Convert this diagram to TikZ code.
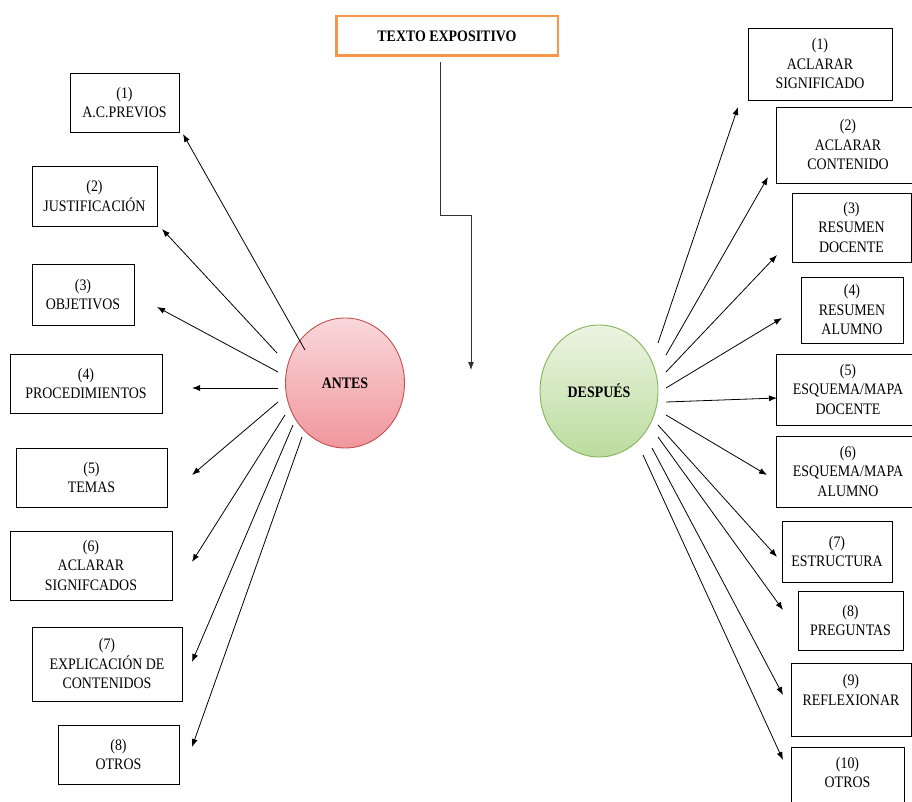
\documentclass[tikz,border=0pt]{standalone}
\usepackage{fontspec}
\setmainfont{Liberation Serif}[FakeStretch=0.87]
\usetikzlibrary{arrows.meta,shapes.geometric}

\definecolor{naranja}{RGB}{247,150,70}
\definecolor{rojoborde}{RGB}{192,80,77}
\definecolor{rojoclaro}{RGB}{250,216,219}
\definecolor{rojomedio}{RGB}{240,150,156}
\definecolor{verdeborde}{RGB}{130,180,90}
\definecolor{verdeclaro}{RGB}{235,244,226}
\definecolor{verdemedio}{RGB}{188,220,158}
\definecolor{gristrazo}{RGB}{50,50,50}

\tikzset{
  caja/.style={draw, line width=0.9pt, rectangle, align=center, inner sep=0pt,
    font=\fontsize{16}{19.5}\selectfont},
  bola/.style={ellipse, line width=0.9pt, inner sep=0pt,
    font=\bfseries\fontsize{16}{19}\selectfont},
  flecha/.style={line width=0.8pt, -{Latex[length=8pt,width=6pt]}},
}

\begin{document}
\begin{tikzpicture}[x=1pt,y=-1pt]
    \useasboundingbox (0,0) rectangle (912,802);
    \clip (0,0) rectangle (912,802);

    % Titulo
    \node[draw=naranja, line width=2.5pt, minimum width=221.5pt, minimum height=39.5pt,
      font=\bfseries\fontsize{16}{19}\selectfont] (titulo) at (447,36) {TEXTO EXPOSITIVO};

    % Circulos
    \node[bola, draw=rojoborde, top color=rojoclaro, bottom color=rojomedio,
      minimum width=119pt, minimum height=130pt] (antes) at (345,383) {ANTES};
    \node[bola, draw=verdeborde, top color=verdeclaro, bottom color=verdemedio,
      minimum width=118pt, minimum height=132pt] (despues) at (599,391) {DESPUÉS};

    % Cajas de la izquierda (antes)
    \node[caja, minimum width=109pt, minimum height=59pt] (a1) at (124.5,102.5) {(1)\\A.C.PREVIOS};
    \node[caja, minimum width=125pt, minimum height=60pt] (a2) at (94.5,196) {(2)\\JUSTIFICACIÓN};
    \node[caja, minimum width=102pt, minimum height=61pt] (a3) at (83,294.5) {(3)\\OBJETIVOS};
    \node[caja, minimum width=152pt, minimum height=59pt] (a4) at (86,383.5) {(4)\\PROCEDIMIENTOS};
    \node[caja, minimum width=151pt, minimum height=59pt] (a5) at (91.5,477.5) {(5)\\TEMAS};
    \node[caja, minimum width=162pt, minimum height=69pt] (a6) at (91,565.5) {(6)\\ACLARAR\\SIGNIFCADOS};
    \node[caja, minimum width=150pt, minimum height=74pt] (a7) at (107,664) {(7)\\EXPLICACIÓN DE\\CONTENIDOS};
    \node[caja, minimum width=121pt, minimum height=59pt] (a8) at (118.5,754.5) {(8)\\OTROS};

    % Cajas de la derecha (despues)
    \node[caja, minimum width=144pt, minimum height=72pt] (d1) at (820,64) {(1)\\ACLARAR\\SIGNIFICADO};
    \node[caja, minimum width=144pt, minimum height=76pt] (d2) at (848,145) {(2)\\ACLARAR\\CONTENIDO};
    \node[caja, minimum width=119pt, minimum height=69pt] (d3) at (851.5,227.5) {(3)\\RESUMEN\\DOCENTE};
    \node[caja, minimum width=102pt, minimum height=66pt] (d4) at (852,310) {(4)\\RESUMEN\\ALUMNO};
    \node[caja, minimum width=144pt, minimum height=71pt] (d5) at (848,389.5) {(5)\\ESQUEMA/MAPA\\DOCENTE};
    \node[caja, minimum width=144pt, minimum height=71pt] (d6) at (848,471.5) {(6)\\ESQUEMA/MAPA\\ALUMNO};
    \node[caja, minimum width=110pt, minimum height=61pt] (d7) at (837,551.5) {(7)\\ESTRUCTURA};
    \node[caja, minimum width=105pt, minimum height=59pt] (d8) at (850.5,620.5) {(8)\\PREGUNTAS};
    \node[caja, minimum width=120pt, minimum height=73pt] (d9) at (851,699.5) {(9)\\REFLEXIONAR\\\mbox{}};
    \node[caja, minimum width=113pt, minimum height=70pt] (d10) at (847.5,782) {(10)\\OTROS\\\mbox{}};

    % Puntas de las flechas
    \coordinate (fa1) at (183,134);
    \coordinate (fa2) at (162,229);
    \coordinate (fa3) at (157,307);
    \coordinate (fa4) at (192,388);
    \coordinate (fa5) at (192,475);
    \coordinate (fa6) at (192,562);
    \coordinate (fa7) at (192,662);
    \coordinate (fa8) at (192,747);
    \coordinate (fd1) at (738,107);
    \coordinate (fd2) at (768,177);
    \coordinate (fd3) at (777,255);
    \coordinate (fd4) at (782,318);
    \coordinate (fd5) at (777,398);
    \coordinate (fd6) at (767,475);
    \coordinate (fd7) at (777,557);
    \coordinate (fd8) at (783,610);
    \coordinate (fd9) at (783,695);
    \coordinate (fd10) at (783,760);
    \coordinate (codo) at (471,215);
    \coordinate (medio) at (471,370);

    % Del titulo hacia el centro
    \draw[flecha, gristrazo] ([xshift=-7pt,yshift=-5pt]titulo.south) |- (codo) -- (medio);

    % Flechas de antes
    \draw[flecha] ([shift={(-40,-33)}]antes.center) -- (fa1);
    \draw[flecha] ([shift={(-68,-30)}]antes.center) -- (fa2);
    \draw[flecha] ([shift={(-67,-11)}]antes.center) -- (fa3);
    \draw[flecha] ([shift={(-67,5)}]antes.center) -- (fa4);
    \draw[flecha] ([shift={(-67,19)}]antes.center) -- (fa5);
    \draw[flecha] ([shift={(-60,32)}]antes.center) -- (fa6);
    \draw[flecha] ([shift={(-52,42)}]antes.center) -- (fa7);
    \draw[flecha] ([shift={(-43,54)}]antes.center) -- (fa8);

    % Flechas de despues
    \draw[flecha] ([shift={(59,-48)}]despues.center) -- (fd1);
    \draw[flecha] ([shift={(67,-36)}]despues.center) -- (fd2);
    \draw[flecha] ([shift={(67,-19)}]despues.center) -- (fd3);
    \draw[flecha] ([shift={(67,-3)}]despues.center) -- (fd4);
    \draw[flecha] ([shift={(67,11)}]despues.center) -- (fd5);
    \draw[flecha] ([shift={(67,24)}]despues.center) -- (fd6);
    \draw[flecha] ([shift={(59,34)}]despues.center) -- (fd7);
    \draw[flecha] ([shift={(59,46)}]despues.center) -- (fd8);
    \draw[flecha] ([shift={(53,57)}]despues.center) -- (fd9);
    \draw[flecha] ([shift={(44,64)}]despues.center) -- (fd10);
\end{tikzpicture}
\end{document}
